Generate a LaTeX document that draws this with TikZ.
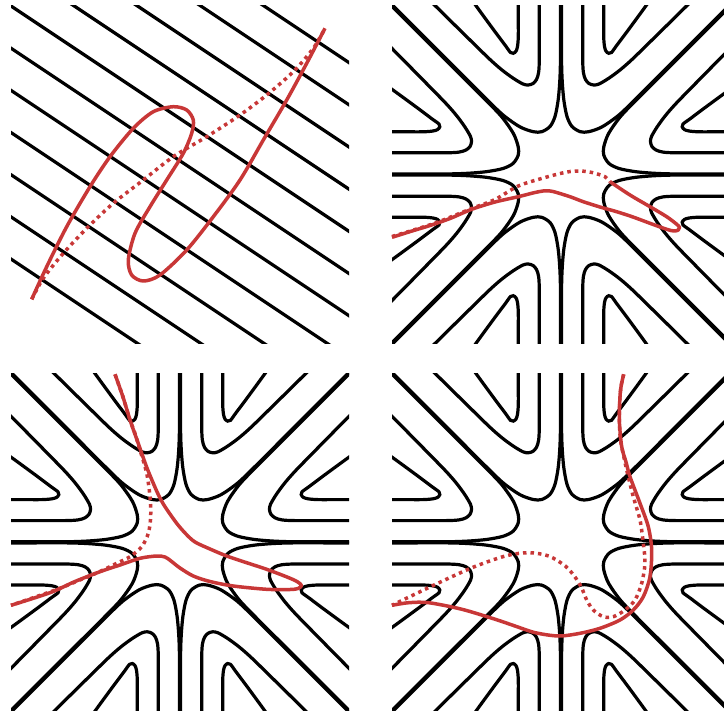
\documentclass[tikz,border=0pt]{standalone}
\definecolor{redc}{RGB}{200,55,55}
\tikzset{
  lvl/.style={line width=3.2pt, black},
  redsolid/.style={line width=3.5pt, redc, line join=round},
  reddot/.style={line width=3.5pt, redc, dash pattern=on 3.5pt off 4pt}
}
\newcommand{\mySector}{%
 \draw[lvl] plot[smooth,tension=0.5] coordinates {(-0.6,200) (-0.6,150) (-0.6,112) (-1.3,92) (-2.9,74) (-6,58) (-11,48) (-19.3,42.8) (-27.7,42.8) (-41,47.6) (-57.7,59.3) (-75,75.8) (-100,100.8) (-150,150.8) (-200,200.8)};
 \draw[lvl] plot[smooth,tension=0.5] coordinates {(-21.7,200) (-21.7,150) (-21.7,115) (-22.4,102) (-24.5,95) (-28,91) (-32.7,89.5) (-38,90.5) (-47.7,96.2) (-59,104.5) (-71,115) (-91,134.5) (-126,169) (-160,203)};
 \draw[lvl] plot[smooth,tension=0.5] coordinates {(-42.7,200) (-42.7,160) (-42.7,138) (-43.5,128) (-45,123.3) (-47.7,121.2) (-50.5,122) (-56,129.5) (-66,142.8) (-84.3,167.8) (-108,201)};
}
\newcommand{\mySaddle}[2]{%
 \begin{scope}
  \clip ({#1-169},{#2-168.6}) rectangle ({#1+169},{#2+168.6});
  \foreach \r in {0,90,180,270}{
   \begin{scope}[shift={(#1,#2)},yscale=-1,rotate=\r]
    \mySector
    \begin{scope}[xscale=-1]\mySector\end{scope}
   \end{scope}}
 \end{scope}}
\begin{document}
\begin{tikzpicture}[x=1pt,y=-1pt]
\fill[white] (0,0) rectangle (724,713);
\useasboundingbox (0,0) rectangle (724,713);

% panel 1: parallel level lines
\begin{scope}
 \clip (11,5.8) rectangle (349,343.2);
 \foreach \k in {-4,...,6}{
  \draw[lvl] ({11-150},{6+42.17*\k-100}) -- ++(600,400);
 }
\end{scope}

% panels 2-4: saddle level curves
\mySaddle{561}{174.5}
\mySaddle{180}{542.3}
\mySaddle{561}{542.3}

% panel 1 red
\draw[redsolid] plot[smooth] coordinates {(31.7,299.3) (46.7,266.7) (66.7,226.7) (90,186.7) (110,156.7) (133.3,128.3) (153.3,111.7) (173.3,106.7) (186.7,110) (193.3,120) (191.7,133.3) (183.3,153.3) (166.7,180) (150,206.7) (135,233.3) (128.3,260) (131.7,275) (143.3,281) (160,275) (186.7,250) (213.3,216.7) (240,180) (263.3,140) (286.7,100) (306.7,63.3) (325,28.3)};
\draw[reddot] plot[smooth] coordinates {(31.7,299.3) (43.3,278.3) (63.3,253.3) (88.3,226.7) (113.3,203.3) (143.3,180) (173.3,156.7) (206.7,136.7) (240,115) (266.7,95) (293.3,71.7) (313.3,48.3) (325,28.3)};

% panel 2 red
\draw[redsolid] plot[smooth] coordinates {(392,237.3) (412,231) (430,225.5) (450,218.5) (471.7,209.3) (495,202) (518.3,196.7) (535,192.5) (545,190.8) (553,191.5) (570,196.7) (583.3,201.7) (600,207) (616.7,211.7) (633,217) (650,223.3) (666.7,229.3) (674,231) (678.3,230) (679.5,227.5) (677,224.5) (666.7,216.7) (650,206.7) (630,195) (610,181.7)};
\draw[reddot] plot[smooth] coordinates {(392,236.5) (412,230.5) (438,222) (471.7,208.5) (495,199.5) (518.3,186) (545,177.5) (567,172) (580,171) (592,172.5) (605,176.7) (610,181.7)};

% panel 3 red
\draw[redsolid] plot[smooth] coordinates {(115,374.3) (123,397) (130,420) (136,437) (141.7,453.3) (147,468) (153.3,483.3) (159,496) (165,506.7) (176.7,523.3) (186,534) (195,542) (210,549) (226.7,556) (246,562.5) (266.7,569.3) (287,577) (297,581.5) (301.5,585.5) (298,588.5) (290,589.5) (266.7,589.3) (233.3,586) (210,581.5) (193.3,576) (180,568) (171,561) (165,557) (156.7,556) (140,558.3) (120,565) (100,571.7) (75,581.5) (50,592.7) (11,605.3)};
\draw[reddot] plot[smooth] coordinates {(115,374.3) (123,397) (130,420) (134.5,432) (140,450) (146.7,473.3) (150,496.7) (150.7,516.7) (148.3,533.3) (141.7,546.7) (130,556.7) (116.7,563.3) (100,571.5) (83.3,578.5) (56.7,589.5) (11,605.3)};

% panel 4 red
\draw[redsolid] plot[smooth] coordinates {(623.7,374.3) (621.3,385) (620,396.7) (619.3,420) (621.7,446.7) (626,462) (630,476.7) (640,503.3) (648.3,526.7) (651.7,550) (650,576.7) (643.3,596.7) (633.3,610) (620,620) (600,628.3) (580,633.3) (558.7,636) (535.3,632.7) (515,626) (495.3,619.3) (462,609.3) (428.7,602.7) (408.7,602.7) (392,605.3)};
\draw[reddot] plot[smooth] coordinates {(623.7,374.3) (621.3,385) (620,396.7) (619.3,420) (620.5,440) (623.5,455) (626.7,470) (633.3,496.7) (640,520) (643.3,543.3) (645,563.3) (641.7,583.3) (635,600) (625,610) (613.3,616.7) (603.3,616.7) (593.3,610) (586.7,600) (581.7,588) (575,577) (565.3,566) (548.7,556) (528.7,552.7) (505.3,556) (472,567.7) (432,586) (392,605.3)};
\end{tikzpicture}
\end{document}
